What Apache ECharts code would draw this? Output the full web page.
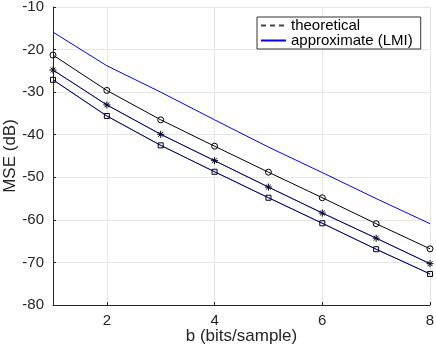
<!DOCTYPE html>
<html>
<head>
<meta charset="utf-8">
<script src="https://cdn.jsdelivr.net/npm/echarts@6/dist/echarts.min.js"></script>
<style>
  html, body { margin: 0; padding: 0; background: #fff; }
  #chart { width: 436px; height: 346px; }
</style>
</head>
<body>
<div id="chart"></div>
<script>
// bits per sample
const bits = [1, 2, 3, 4, 5, 6, 7, 8];
const xTicks = [2, 4, 6, 8];
const yTicks = [-80, -70, -60, -50, -40, -30, -20, -10];

// theoretical MSE (dB), one curve per marker
const theoCircle = [-21.3, -29.6, -36.5, -42.7, -48.8, -54.8, -60.9, -66.8];
const theoStar = [-24.8, -33.0, -39.9, -46.1, -52.3, -58.4, -64.3, -70.3];
const theoSquare = [-27.1, -35.6, -42.5, -48.7, -54.8, -60.8, -66.9, -72.7];

// approximate (LMI) MSE (dB)
const approxTop = [-15.9, -23.8, -30.0, -36.5, -42.9, -48.9, -55.0, -60.9];
const approxStar = theoStar;
const approxSquare = theoSquare;

const FONT = "Liberation Sans";
const TEXT = "#262626";
const BLUE = "#0000ff";
const STAR = "path://M0,5L10,5M5,0L5,10M1.5,1.5L8.5,8.5M8.5,1.5L1.5,8.5";

const pairs = (ys) => bits.map((b, i) => [b, ys[i]]);

const theoSeries = (ys, symbol, size) => ({
  name: "theoretical",
  type: "line",
  data: pairs(ys),
  symbol: symbol,
  symbolSize: size,
  showSymbol: true,
  z: 2,
  lineStyle: { color: "#000", width: 1 },
  itemStyle: { color: "rgba(0,0,0,0)", borderColor: "#000", borderWidth: 1 },
  emphasis: { disabled: true },
  animation: false,
});

const approxSeries = (ys, z) => ({
  name: "approximate (LMI)",
  type: "line",
  data: pairs(ys),
  symbol: "none",
  z: z,
  lineStyle: { color: BLUE, width: 1, opacity: z > 2 ? 0.5 : 1 },
  itemStyle: { color: BLUE },
  emphasis: { disabled: true },
  animation: false,
});

const chart = echarts.init(document.getElementById("chart"), null, { renderer: "canvas" });

chart.setOption({
  backgroundColor: "#fff",
  animation: false,
  textStyle: { fontFamily: FONT },
  grid: { left: 53, right: 6, top: 7, bottom: 41, containLabel: false, outerBoundsMode: "none" },
  legend: {
    data: ["theoretical", "approximate (LMI)"],
    orient: "vertical",
    left: 257,
    top: 17,
    padding: [1, 8, 1, 3],
    itemGap: 0,
    itemWidth: 25,
    itemHeight: 10,
    backgroundColor: "#fff",
    borderColor: "#333",
    borderWidth: 1,
    borderRadius: 0,
    selectedMode: false,
    itemStyle: { opacity: 0 },
    textStyle: { fontFamily: FONT, fontSize: 15, color: "#000", padding: [0, 0, 0, 0] },
  },
  xAxis: {
    type: "value",
    min: 1,
    max: 8,
    name: "b (bits/sample)",
    nameLocation: "middle",
    nameGap: 23,
    nameMoveOverlap: false,
    nameTextStyle: { fontFamily: FONT, fontSize: 17, color: TEXT },
    axisLine: { lineStyle: { color: TEXT, width: 1 } },
    axisTick: { inside: true, length: 3, customValues: xTicks, lineStyle: { color: TEXT } },
    axisLabel: { customValues: xTicks, margin: 8, fontFamily: FONT, fontSize: 15, color: TEXT },
    splitLine: { show: true, lineStyle: { color: "#e6e6e6", width: 1 } },
  },
  yAxis: {
    type: "value",
    min: -80,
    max: -10,
    interval: 10,
    name: "MSE (dB)",
    nameLocation: "middle",
    nameGap: 34,
    nameMoveOverlap: false,
    nameTextStyle: { fontFamily: FONT, fontSize: 17, color: TEXT },
    axisLine: { show: true, lineStyle: { color: TEXT, width: 1 } },
    axisTick: { show: true, inside: true, length: 3, lineStyle: { color: TEXT } },
    axisLabel: {
      margin: 9, fontFamily: FONT, fontSize: 15, color: TEXT,
      formatter: (v) => (yTicks.includes(v) ? String(v) : ""),
    },
    splitLine: { show: true, lineStyle: { color: "#e6e6e6", width: 1 } },
  },
  series: [
    {
      name: "theoretical",
      type: "line",
      data: [],
      symbol: "none",
      lineStyle: { color: "#444", width: 1, type: [5, 4] },
      itemStyle: { color: "#444" },
    },
    approxSeries(approxTop, 2),
    theoSeries(theoCircle, "circle", 6),
    theoSeries(theoStar, STAR, 7),
    theoSeries(theoSquare, "rect", 5),
    approxSeries(approxStar, 3),
    approxSeries(approxSquare, 3),
  ],
});
</script>
</body>
</html>
